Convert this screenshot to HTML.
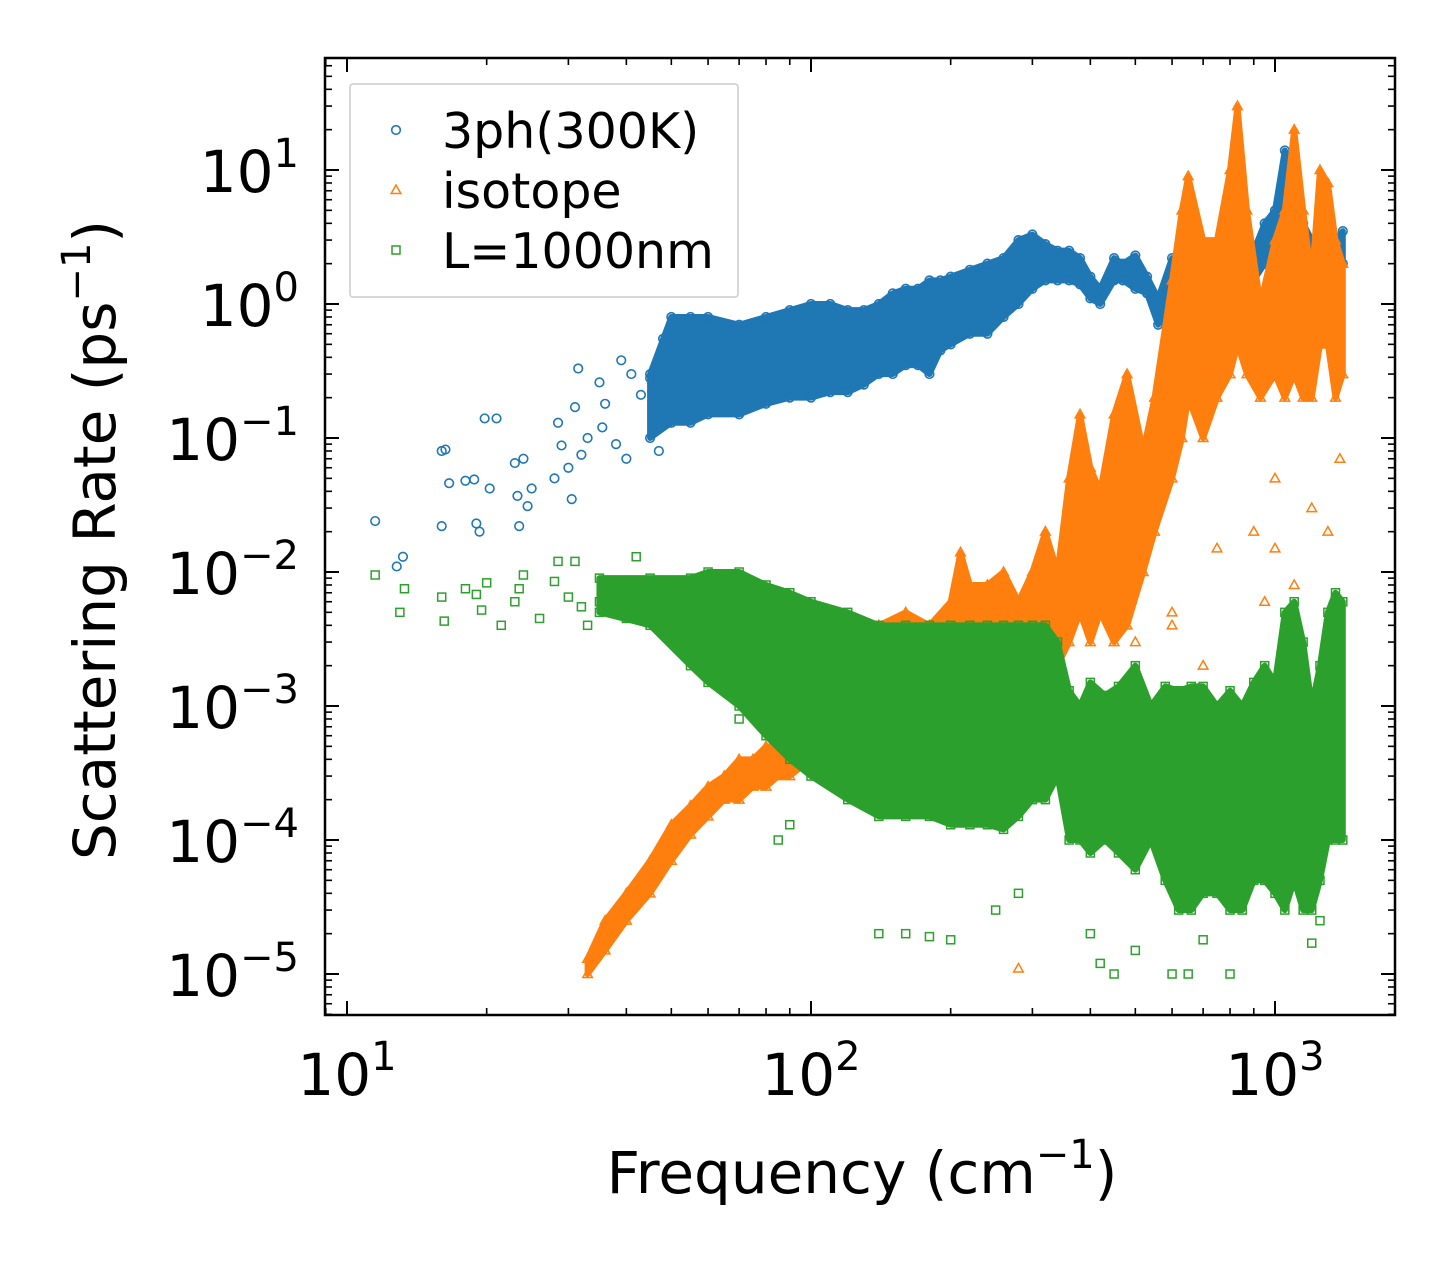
<!DOCTYPE html>
<html><head><meta charset="utf-8"><style>
body{margin:0;background:#fff;}
svg text{font-family:"DejaVu Sans","Liberation Sans",sans-serif;fill:#000;}
</style></head><body>
<svg id="chart" width="1455" height="1265" viewBox="0 0 1455 1265" xmlns="http://www.w3.org/2000/svg">
<rect width="1455" height="1265" fill="#fff"/>
<g id="plot"></g>
<g id="axes"></g>
</svg>
<script>
// ---- data (frequency cm^-1, rate ps^-1) ----
const blueFreq=[11.5,12.8,13.2,16,16.3,16.6,16,18,18.8,19,19.3,19.8,20.3,21,23,23.3,23.5,24,24.5,25,28,28.5,29,30,30.5,31,31.5,32,33,35,35.5,36,38,39,40,41,43,45,47,48,50];
const blueRate=[0.024,0.011,0.013,0.08,0.082,0.046,0.022,0.048,0.049,0.023,0.02,0.14,0.042,0.14,0.065,0.037,0.022,0.07,0.031,0.042,0.05,0.13,0.088,0.06,0.035,0.17,0.33,0.075,0.1,0.26,0.12,0.18,0.09,0.38,0.07,0.3,0.21,0.28,0.08,0.55,0.4];
const blueBandFreq=[45,50,55,60,70,80,90,100,110,120,130,140,150,160,170,180,190,200,220,240,260,280,300,320,340,360,380,400,420,450,470,500,530,560,600,650,700,750,800,850,900,950,1000,1050,1100,1150,1200,1250,1300,1350,1400];
const blueBandLo=[0.1,0.13,0.13,0.15,0.15,0.18,0.2,0.2,0.22,0.22,0.25,0.3,0.3,0.35,0.35,0.3,0.45,0.5,0.6,0.6,0.8,1,1.3,1.5,1.5,1.5,1.4,1.1,1,1.5,1.5,1.3,1.2,0.7,1,1.2,1.1,1,0.7,1.2,1.5,2,3,5,0.6,1,0.7,1,1.5,1.5,2];
const blueBandHi=[0.3,0.8,0.8,0.8,0.7,0.8,0.9,1.0,1.0,0.9,0.9,1.0,1.2,1.3,1.3,1.5,1.5,1.6,1.8,2,2.2,3,3.3,2.8,2.5,2.5,2.2,1.6,1.3,2.2,2.0,2.3,1.6,1.1,2.2,1.8,1.5,1.3,1.5,2,2.5,4,5,14,10,4,3,3,4,3,3.5];

const orangeFreq=[280,500,600,700,800,900,1000,1100,1300,1380,600,750,1000,1200,950];
const orangeRate=[1.1e-5,3e-3,4e-3,2e-3,1e-3,0.02,0.015,0.008,0.02,0.07,5e-3,0.015,0.05,0.03,0.006];
const orangeBandFreq=[33,36,40,45,50,55,60,65,70,75,80,85,90,100,120,140,160,180,200,210,220,240,260,280,300,320,340,360,380,400,420,450,480,520,550,600,630,650,700,750,800,830,870,930,1000,1050,1100,1150,1200,1250,1300,1350,1400];
const orangeBandLo=[1e-5,1.5e-5,2.5e-5,4e-5,7e-5,1.1e-4,1.5e-4,2e-4,2e-4,2.5e-4,2.5e-4,3e-4,3e-4,4e-4,6e-4,1.5e-3,2e-3,2.5e-3,3e-3,3e-3,3e-3,3e-3,3e-3,3e-3,3e-3,3e-3,2e-3,3e-3,5e-3,3e-3,5e-3,3e-3,4e-3,0.01,0.02,0.05,0.1,0.2,0.1,0.2,0.3,0.5,0.3,0.2,0.3,0.2,0.3,0.2,0.2,0.5,0.5,0.2,0.3];
const orangeBandHi=[1.3e-5,2.5e-5,4e-5,7e-5,1.3e-4,1.8e-4,2.5e-4,3e-4,4e-4,4e-4,5e-4,5e-4,6e-4,7e-4,1.5e-3,4e-3,5e-3,4e-3,6e-3,1.4e-2,8e-3,8e-3,1e-2,6e-3,1e-2,2e-2,1e-2,0.05,0.15,0.06,0.04,0.15,0.3,0.08,0.2,1.5,5,9,3,3,10,30,5,1,3,5,20,5,1.5,10,8,3,2];

const greenFreq=[11.5,13,13.3,16,16.2,18,19,19.5,20,21.5,23,23.5,24,26,28,28.5,30,31,32,33,35,38,40,42,140,160,180,200,250,280,400,420,450,500,600,650,700,800,1200,1250,85,90,70,75];
const greenRate=[0.0095,0.005,0.0075,0.0065,0.0043,0.0075,0.0068,0.0052,0.0083,0.004,0.006,0.0075,0.0095,0.0045,0.0085,0.012,0.0065,0.012,0.0055,0.004,0.006,0.0075,0.0045,0.013,2e-5,2e-5,1.9e-5,1.8e-5,3e-5,4e-5,2e-5,1.2e-5,1e-5,1.5e-5,1e-5,1e-5,1.8e-5,1e-5,1.7e-5,2.5e-5,1e-4,1.3e-4,8e-4,1.2e-3];
const greenBandFreq=[35,45,55,60,70,80,90,100,120,140,160,180,200,220,240,260,280,300,320,340,360,380,400,430,460,500,540,580,620,660,700,750,800,850,900,950,1000,1050,1100,1150,1200,1250,1300,1350,1400];
const greenBandLo=[5e-3,4e-3,2e-3,1.5e-3,1e-3,6e-4,4e-4,3e-4,2e-4,1.5e-4,1.5e-4,1.5e-4,1.3e-4,1.3e-4,1.3e-4,1.2e-4,1.5e-4,2e-4,2e-4,3e-4,1e-4,1e-4,8e-5,1e-4,8e-5,6e-5,1e-4,5e-5,3e-5,3e-5,4e-5,4e-5,3e-5,3e-5,5e-5,5e-5,4e-5,3e-5,5e-5,3e-5,3e-5,5e-5,1e-4,1e-4,1e-4];
const greenBandHi=[9e-3,9e-3,9e-3,1e-2,1e-2,8e-3,7e-3,6e-3,5e-3,4e-3,4e-3,4e-3,4e-3,4e-3,4e-3,4e-3,4e-3,4e-3,4e-3,3e-3,1.3e-3,1e-3,1.5e-3,1.2e-3,1.4e-3,2e-3,1e-3,1.4e-3,1.3e-3,1.4e-3,1.4e-3,1e-3,1.3e-3,1e-3,1.5e-3,2e-3,1.5e-3,5e-3,6e-3,3e-3,1e-3,2e-3,5e-3,7e-3,6e-3];

const xTickLabels=["1","2","3"];
const yTickLabels=["1","0","\u22121","\u22122","\u22123","\u22124","\u22125"];

// ---- axes ----
const L=325,R=1395,T=58,B=1015;
const X=v=>347+(Math.log10(v)-1)*464;
const Y=v=>170-(Math.log10(v)-1)*134;
const NS="http://www.w3.org/2000/svg";
function mk(tag,attrs,parent){const e=document.createElementNS(NS,tag);for(const k in attrs)e.setAttribute(k,attrs[k]);parent.appendChild(e);return e;}
const plot=document.getElementById('plot'),axes=document.getElementById('axes');
const clip=mk('clipPath',{id:'cp'},document.getElementById('chart'));
mk('rect',{x:L,y:T,width:R-L,height:B-T},clip);
plot.setAttribute('clip-path','url(#cp)');

function band(fr,lo,hi,color,name){
  let d='M'+fr.map((f,i)=>X(f)+','+Y(hi[i])).join('L');
  for(let i=fr.length-1;i>=0;i--)d+='L'+X(fr[i])+','+Y(lo[i]);
  const p=mk('path',{d:d+'Z',fill:color,stroke:color,'stroke-width':6,'stroke-linejoin':'round'},plot);
  
  
}
function marker(type,x,y,color,name){
  let e;
  if(type==='c')e=mk('circle',{cx:x,cy:y,r:4.3,fill:'none',stroke:color,'stroke-width':1.6},plot);
  else if(type==='t')e=mk('path',{d:`M${x},${y-5}L${x+4.8},${y+3.5}L${x-4.8},${y+3.5}Z`,fill:'none',stroke:color,'stroke-width':1.5},plot);
  else e=mk('rect',{x:x-4,y:y-4,width:8,height:8,fill:'none',stroke:color,'stroke-width':1.5},plot);
  
  
}
function series(fr,rt,bf,bl,bh,color,type,name){
  band(bf,bl,bh,color,name+'-dense-band');
  bf.forEach((f,i)=>{marker(type,X(f),Y(bl[i]),color,name+'-point');marker(type,X(f),Y(bh[i]),color,name+'-point');});
  fr.forEach((f,i)=>marker(type,X(f),Y(rt[i]),color,name+'-point'));
}
series(blueFreq,blueRate,blueBandFreq,blueBandLo,blueBandHi,'#1f77b4','c','3ph-series');
series(orangeFreq,orangeRate,orangeBandFreq,orangeBandLo,orangeBandHi,'#ff7f0e','t','isotope-series');
series(greenFreq,greenRate,greenBandFreq,greenBandLo,greenBandHi,'#2ca02c','s','boundary-series');

// frame
const fr=mk('rect',{x:L,y:T,width:R-L,height:B-T,fill:'none',stroke:'#000','stroke-width':2.5},axes);


// x ticks
for(let d=0;d<=3;d++){for(let m=1;m<=9;m++){const v=m*Math.pow(10,d);const x=X(v);if(x<L||x>R)continue;const len=m===1?14:7;
  mk('line',{x1:x,y1:B,x2:x,y2:B-len,stroke:'#000','stroke-width':m===1?2:1.6},axes);
  mk('line',{x1:x,y1:T,x2:x,y2:T+len,stroke:'#000','stroke-width':m===1?2:1.6},axes);}}
xTickLabels.forEach((s,i)=>{const t=mk('text',{x:X(Math.pow(10,+s)),y:1095,'font-size':58,'text-anchor':'middle'},axes);
  
  
  t.innerHTML='10<tspan dy="-25" font-size="40">'+s+'</tspan>';});
// y ticks
for(let d=-6;d<=1;d++){for(let m=1;m<=9;m++){const v=m*Math.pow(10,d);const y=Y(v);if(y<T||y>B)continue;const len=m===1?14:7;
  mk('line',{x1:L,y1:y,x2:L+len,y2:y,stroke:'#000','stroke-width':m===1?2:1.6},axes);
  mk('line',{x1:R,y1:y,x2:R-len,y2:y,stroke:'#000','stroke-width':m===1?2:1.6},axes);}}
yTickLabels.forEach(s=>{const v=Math.pow(10,+s.replace('\u2212','-'));const t=mk('text',{x:299,y:Y(v)+22,'font-size':58,'text-anchor':'end'},axes);
  
  
  t.innerHTML='10<tspan dy="-25" font-size="40">'+s+'</tspan>';});
// axis titles
const xt=mk('text',{x:862,y:1193,'font-size':58,'text-anchor':'middle'},axes);


xt.innerHTML='Frequency (cm<tspan dy="-25" font-size="40">\u22121</tspan><tspan dy="25">)</tspan>';
const yt=mk('text',{x:0,y:0,'font-size':58,'text-anchor':'middle',transform:'translate(115,540) rotate(-90)'},axes);


yt.innerHTML='Scattering Rate (ps<tspan dy="-25" font-size="40">\u22121</tspan><tspan dy="25">)</tspan>';
// legend
const lg=mk('g',{},axes);


mk('rect',{x:350,y:84,width:388,height:213,fill:'#fff','fill-opacity':0.8,stroke:'#ccc','stroke-width':1.5,rx:3},lg);
const entries=[['3ph(300K)','#1f77b4','c'],['isotope','#ff7f0e','t'],['L=1000nm','#2ca02c','s']];
entries.forEach((e,i)=>{const y=130+i*60;const g=mk('g',{},lg);
  
  
  const c=e[1];
  if(e[2]==='c')mk('circle',{cx:396,cy:y,r:4.3,fill:'none',stroke:c,'stroke-width':1.6},g);
  else if(e[2]==='t')mk('path',{d:`M396,${y-5}L400.8,${y+3.5}L391.2,${y+3.5}Z`,fill:'none',stroke:c,'stroke-width':1.5},g);
  else mk('rect',{x:392,y:y-4,width:8,height:8,fill:'none',stroke:c,'stroke-width':1.5},g);
  const t=mk('text',{x:442,y:y+18,'font-size':49},g);t.textContent=e[0];});
</script>
</body></html>
